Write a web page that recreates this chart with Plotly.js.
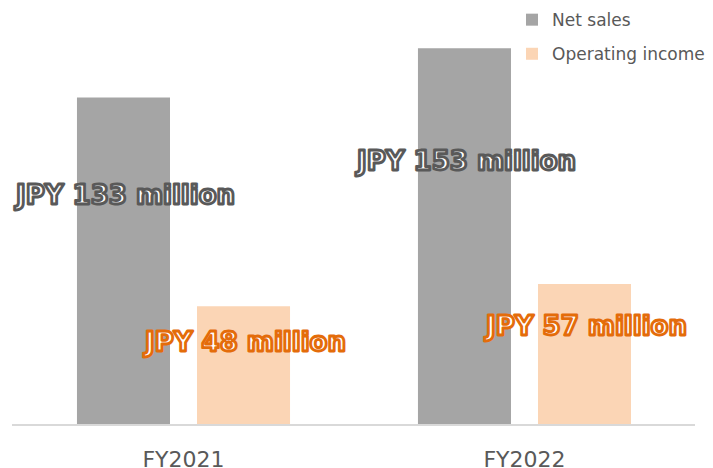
<!DOCTYPE html>
<html>
<head>
<meta charset="utf-8">
<script src="https://cdn.plot.ly/plotly-3.0.1.min.js"></script>
<style>
  html, body { margin: 0; padding: 0; background: #fff; }
  #chart { width: 713px; height: 468px; }
  g.annotation text.annotation-text { stroke-width: 2.8px; stroke-linejoin: round; }
  g.annotation[data-index="0"] text.annotation-text,
  g.annotation[data-index="1"] text.annotation-text { stroke: #595959; }
  g.annotation[data-index="2"] text.annotation-text,
  g.annotation[data-index="3"] text.annotation-text { stroke: #E46C0A; }
</style>
</head>
<body>
<div id="chart"></div>
<script>
const categories = ["FY2021", "FY2022"];
const seriesNames = ["Net sales", "Operating income"];
const netSales = [133, 153];
const operatingIncome = [48, 57];
const netSalesLabels = ["JPY 133 million", "JPY 153 million"];
const operatingIncomeLabels = ["JPY 48 million", "JPY 57 million"];

const grayColor = "#A5A5A5";
const peachColor = "#FBD5B5";
const labelFont = "DejaVu Sans, Verdana, sans-serif";

const traces = [
  {
    type: "bar", name: seriesNames[0], x: categories, y: netSales,
    marker: { color: grayColor }, legendgroup: "a", hoverinfo: "none"
  },
  {
    type: "bar", name: seriesNames[1], x: categories, y: operatingIncome,
    marker: { color: peachColor }, legendgroup: "b", hoverinfo: "none"
  }
];

const annotations = [];
categories.forEach((c, i) => {
  annotations.push({
    x: c, y: netSales[i] * 0.7, xref: "x", yref: "y", xshift: -59,
    text: "<b>" + netSalesLabels[i] + "</b>", showarrow: false,
    font: { family: labelFont, size: 26, color: "#FFFFFF" }
  });
});
categories.forEach((c, i) => {
  annotations.push({
    x: c, y: operatingIncome[i] * 0.7, xref: "x", yref: "y", xshift: 61,
    text: "<b>" + operatingIncomeLabels[i] + "</b>", showarrow: false,
    font: { family: labelFont, size: 26, color: "#FFFFFF" }
  });
});

const layout = {
  width: 713, height: 468,
  margin: { l: 12, r: 0, t: 0, b: 44, pad: 0 },
  paper_bgcolor: "#FFFFFF", plot_bgcolor: "#FFFFFF",
  barmode: "group", bargap: 0.296, bargroupgap: 0.225,
  font: { family: labelFont, color: "#595959" },
  xaxis: {
    type: "category", domain: [0, 0.9743], showgrid: false, zeroline: false,
    showline: true, linecolor: "#D9D9D9", linewidth: 2,
    ticks: "", ticklabelstandoff: 15,
    tickfont: { family: labelFont, size: 22, color: "#595959" }
  },
  yaxis: {
    range: [0, 172.7], showgrid: false, zeroline: false, showline: false,
    showticklabels: false, ticks: ""
  },
  showlegend: true,
  legend: {
    xref: "paper", yref: "paper", x: 0.7133, y: 0.995, xanchor: "left", yanchor: "top",
    traceorder: "grouped", tracegroupgap: 9,
    font: { family: labelFont, size: 17, color: "#595959" },
    bgcolor: "rgba(0,0,0,0)", itemwidth: 30
  },
  annotations: annotations
};

Plotly.newPlot("chart", traces, layout, { displayModeBar: false, staticPlot: true });
</script>
</body>
</html>
